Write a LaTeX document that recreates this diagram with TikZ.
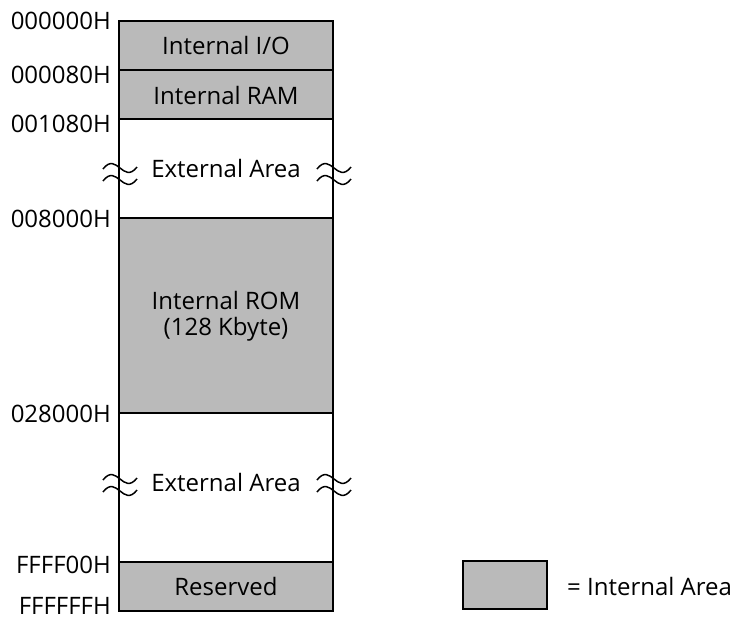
\documentclass[tikz,border=0pt]{standalone}
\usepackage{fontspec}
\setmainfont{Open Sans}
\begin{document}
\begin{tikzpicture}[x=1pt,y=-1pt,
  inner/.style={fill=black!27},
  wall/.style={line width=1.5pt},
  lbl/.style={anchor=east,inner sep=0pt,font=\fontsize{24}{26}\selectfont},
  txt/.style={inner sep=0pt,font=\fontsize{24}{26}\selectfont},
  wave/.style={line width=1.5pt}]
\useasboundingbox (0,0) rectangle (739,619);
% shaded regions
\fill[inner] (119,21) rectangle (333,119);
\fill[inner] (119,218) rectangle (333,413);
\fill[inner] (119,562) rectangle (333,611);
% outline
\draw[wall] (119,21) rectangle (333,611);
\foreach \yy in {70,119,218,413,562} \draw[wall] (119,\yy) -- (333,\yy);
% break marks
\foreach \xx/\yy in {120/168,334/168,120/479,334/479}{
  \draw[wave] (\xx-17,\yy+1) .. controls (\xx-10,\yy-8) and (\xx-5,\yy-4) .. (\xx,\yy)
     .. controls (\xx+5,\yy+4) and (\xx+10,\yy+8) .. (\xx+17,\yy-1);
  \draw[wave] (\xx-17,\yy+13) .. controls (\xx-10,\yy+4) and (\xx-5,\yy+8) .. (\xx,\yy+12)
     .. controls (\xx+5,\yy+16) and (\xx+10,\yy+20) .. (\xx+17,\yy+11);
}
% address labels
\node[lbl] (a0) at (111,21) {000000H};
\node[lbl] (a1) at (111,75) {000080H};
\node[lbl] (a2) at (111,124) {001080H};
\node[lbl] (a3) at (111,219) {008000H};
\node[lbl] (a4) at (111,414) {028000H};
\node[lbl] (a5) at (111,565) {FFFF00H};
\node[lbl] (a6) at (111,606) {FFFFFFH};
% region texts
\node[txt] (io) at (226,45) {Internal I/O};
\node[txt] (ram) at (226,95) {Internal RAM};
\node[txt] (ext1) at (226,168) {External Area};
\node[txt,align=center] (rom) at (226,316) {Internal ROM\\(128 Kbyte)};
\node[txt] (ext2) at (226,482) {External Area};
\node[txt] (res) at (226,586) {Reserved};
% legend
\draw[wall,inner] (463,561) rectangle (547,609);
\node[txt,anchor=west] (leg) at (567,586) {= Internal Area};
\end{tikzpicture}
\end{document}
